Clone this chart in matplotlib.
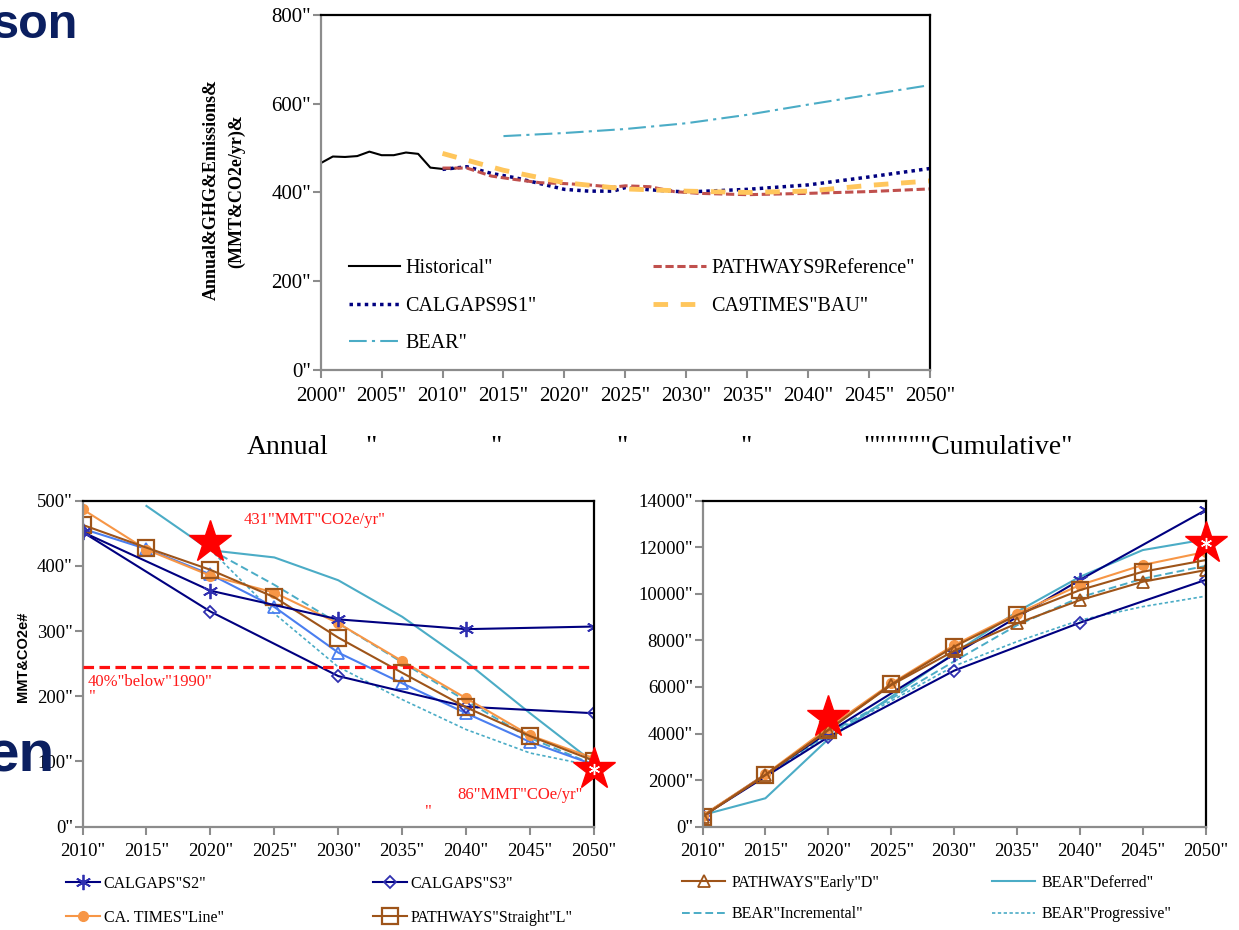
import matplotlib
matplotlib.use("Agg")
import matplotlib.pyplot as plt

plt.rcParams['font.family'] = ['Liberation Serif', 'DejaVu Serif']

NAVY = '#000080'
ORANGE = '#F79646'
BROWN = '#9E5419'
BLUE = '#4A7EF0'
TEAL = '#4BACC6'
RED = '#FF1A1A'
TITLE_NAVY = '#0B1F60'

# ---- top chart: annual GHG emissions, reference cases
hist_years = [2000, 2001, 2002, 2003, 2004, 2005, 2006, 2007, 2008, 2009, 2010, 2011]
hist_vals = [466, 481, 480, 482, 492, 484, 484, 490, 487, 456, 453, 454]
s1_years = [2010, 2012, 2014, 2016, 2018, 2020, 2022, 2024, 2025, 2027, 2030, 2035, 2040, 2045, 2050]
s1_vals = [452, 458, 443, 433, 420, 407, 403, 403, 411, 406, 401, 407, 417, 435, 454]
ref_years = [2010, 2012, 2014, 2016, 2018, 2020, 2022, 2024, 2025, 2027, 2029, 2031, 2035, 2040, 2045, 2050]
ref_vals = [455, 455, 437, 429, 422, 420, 417, 412, 415, 413, 402, 398, 395, 398, 402, 408]
bau_years = [2010, 2015, 2020, 2025, 2030, 2035, 2040, 2045, 2050]
bau_vals = [488, 450, 422, 408, 403, 400, 403, 416, 426]
bear_years = [2015, 2020, 2025, 2030, 2035, 2040, 2045, 2050]
bear_vals = [527, 534, 543, 556, 575, 598, 620, 642]

# ---- bottom charts: scenarios
years = [2010, 2015, 2020, 2025, 2030, 2035, 2040, 2045, 2050]
decades = [2010, 2020, 2030, 2040, 2050]

s2_annual = [452, 362, 318, 303, 307]
s3_annual = [452, 330, 231, 184, 174]
ct_line_annual = [487, 425, 385, 359, 312, 254, 197, 140, 105]
pw_straight_annual = [463, 428, 394, 352, 290, 236, 183, 139, 101]
pw_early_annual = [457, 426, 387, 337, 267, 220, 174, 130, 95]
bear_def_years = [2015, 2020, 2025, 2030, 2035, 2040, 2045, 2050]
bear_def_annual = [492, 424, 413, 378, 322, 253, 174, 98]
bear_inc_years = [2020, 2025, 2030, 2035, 2040, 2045, 2050]
bear_inc_annual = [425, 371, 312, 252, 193, 136, 95]
bear_prog_annual = [425, 327, 245, 195, 149, 113, 93]

s2_cum = [450, 4050, 7400, 10600, 13600]
s3_cum = [450, 3850, 6700, 8760, 10600]
ct_line_cum = [480, 2250, 4250, 6150, 7800, 9150, 10380, 11240, 11800]
pw_straight_cum = [430, 2220, 4150, 6110, 7730, 9090, 10160, 10950, 11450]
pw_early_cum = [430, 2220, 4150, 6080, 7550, 8730, 9730, 10520, 11020]
bear_def_cum = [500, 1220, 3760, 5580, 7450, 9230, 10730, 11880, 12340]
bear_inc_cum = [480, 2200, 4000, 5500, 7100, 8650, 9850, 10650, 11200]
bear_prog_cum = [480, 2200, 3950, 5400, 6900, 7950, 8870, 9450, 9900]

target_1990 = 245
star_years = [2020, 2050]
star_annual = [437, 89]
star_cum = [4720, 12170]


def style(ax, size):
    for s in ['left', 'bottom']:
        ax.spines[s].set_color('#8c8c8c')
        ax.spines[s].set_linewidth(1.6)
    for s in ['top', 'right']:
        ax.spines[s].set_color('black')
        ax.spines[s].set_linewidth(1.6)
    ax.tick_params(direction='out', color='#8c8c8c', length=6, width=1.5, labelsize=size)
    ax.tick_params(axis='y', pad=1)
    ax.tick_params(axis='x', pad=6)


fig = plt.figure(figsize=(12.39, 9.3), dpi=100)

# top chart
ax_top = fig.add_axes([0.2588, 0.6022, 0.4918, 0.3817])
h_hist, = ax_top.plot(hist_years, hist_vals, color='black', lw=1.5, label='Historical"')
h_s1, = ax_top.plot(s1_years, s1_vals, color=NAVY, lw=2.5, ls=(0, (1, 1.2)), label='CALGAPS9S1"')
h_bear, = ax_top.plot(bear_years, bear_vals, color=TEAL, lw=1.5, ls=(0, (8.5, 2.5, 1.5, 2.5)), label='BEAR"')
h_ref, = ax_top.plot(ref_years, ref_vals, color='#C0504D', lw=2.2, ls=(0, (2.7, 1.2)), label='PATHWAYS9Reference"')
h_bau, = ax_top.plot(bau_years, bau_vals, color='#FFC65C', lw=3.5, ls=(0, (3, 2.6)), label='CA9TIMES"BAU"')
ax_top.set_xlim(2000, 2050)
ax_top.set_ylim(0, 800)
ax_top.set_xticks(range(2000, 2051, 5))
ax_top.set_xticklabels([f'{y}"' for y in range(2000, 2051, 5)])
ax_top.set_yticks(range(0, 801, 200))
ax_top.set_yticklabels([f'{v}"' for v in range(0, 801, 200)])
style(ax_top, 15)

leg_kw = dict(frameon=False, borderpad=0, borderaxespad=0, loc='upper left')
fig.legend(handles=[h_hist, h_s1, h_bear], bbox_to_anchor=(349 / 1239, 1 - 259 / 930),
           fontsize=14.5, handlelength=2.55, handletextpad=0.25, labelspacing=0.92, **leg_kw)
fig.legend(handles=[h_ref, h_bau], bbox_to_anchor=(653 / 1239, 1 - 259 / 930),
           fontsize=14.5, handlelength=2.65, handletextpad=0.25, labelspacing=0.92, **leg_kw)

fig.text(211.7 / 1239, 1 - 189 / 930, 'Annual&GHG&Emissions&', rotation=90, fontsize=13,
         fontweight='bold', ha='center', va='center')
fig.text(236.7 / 1239, 1 - 191.5 / 930, '(MMT&CO2e/yr)&', rotation=90, fontsize=13,
         fontweight='bold', ha='center', va='center')

# middle captions
fig.text(247 / 1239, 1 - 447 / 930, 'Annual', fontsize=20, va='center')
for qx in [365, 490, 616, 740]:
    fig.text(qx / 1239, 1 - 447 / 930, '"', fontsize=20, va='center')
fig.text(863 / 1239, 1 - 447 / 930, '""""""Cumulative"', fontsize=20, va='center')

# bottom-left: annual
ax_ann = fig.add_axes([0.0666, 0.1111, 0.4128, 0.3505])
ax_ann.plot(bear_def_years, bear_def_annual, color=TEAL, lw=1.5)
ax_ann.plot(bear_inc_years, bear_inc_annual, color=TEAL, lw=1.4, ls=(0, (4, 2)))
ax_ann.plot(bear_inc_years, bear_prog_annual, color=TEAL, lw=1.2, ls=(0, (2, 1.5)))
ax_ann.plot(years, pw_early_annual, color=BLUE, lw=1.5, marker='^', ms=9, mfc='none', mec=BLUE, mew=1.3)
l_s3, = ax_ann.plot(decades, s3_annual, color=NAVY, lw=1.5, marker='D', ms=6.5, mfc='none', mec='#3030B0',
                    mew=1.3, label='CALGAPS"S3"')
l_ct, = ax_ann.plot(years, ct_line_annual, color=ORANGE, lw=1.5, marker='o', ms=7, label='CA. TIMES"Line"')
l_pw, = ax_ann.plot(years, pw_straight_annual, color=BROWN, lw=1.5, marker='s', ms=11, mfc='none', mew=1.6,
                    label='PATHWAYS"Straight"L"')
l_s2, = ax_ann.plot(decades, s2_annual, color=NAVY, lw=1.5, marker=(6, 2, 0), ms=11, mec='#3030B0', mew=1.3,
                    label='CALGAPS"S2"')
ax_ann.hlines(target_1990, 2010, 2050, colors='#FF1010', lw=2.3, linestyles=(0, (3.3, 1.7)), zorder=4)
ax_ann.plot(star_years, star_annual, ls='none', marker='*', ms=32, color='#FF0000', clip_on=False, zorder=6)
ax_ann.plot(star_years[1:], star_annual[1:], ls='none', marker=(6, 2, 0), ms=8, mec='white', mew=1,
            clip_on=False, zorder=7)
ax_ann.text(2022.6, 470, '431"MMT"CO2e/yr"', color=RED, fontsize=12, va='center')
ax_ann.text(2010.4, 222, '40%"below"1990"', color=RED, fontsize=12, va='center')
ax_ann.text(2010.5, 199, '"', color=RED, fontsize=12, va='center')
ax_ann.text(2049.1, 48.6, '86"MMT"COe/yr"', color=RED, fontsize=12, va='center', ha='right')
ax_ann.text(2036.8, 23, '"', color=RED, fontsize=12, va='center')
ax_ann.set_xlim(2010, 2050)
ax_ann.set_ylim(0, 500)
ax_ann.set_xticks(years)
ax_ann.set_xticklabels([f'{y}"' for y in years])
ax_ann.set_yticks(range(0, 501, 100))
ax_ann.set_yticklabels([f'{v}"' for v in range(0, 501, 100)])
style(ax_ann, 13.5)
fig.text(23 / 1239, 1 - 656.7 / 930, 'MMT&CO2e#', rotation=90, fontsize=10.5, fontweight='bold',
         family='Liberation Sans', ha='center', va='center')

fig.legend(handles=[l_s2, l_ct], bbox_to_anchor=(66 / 1239, 1 - 876 / 930),
           fontsize=11.5, handlelength=2.1, handletextpad=0.25, labelspacing=1.1, **leg_kw)
fig.legend(handles=[l_s3, l_pw], bbox_to_anchor=(373 / 1239, 1 - 876 / 930),
           fontsize=11.5, handlelength=2.1, handletextpad=0.25, labelspacing=1.1, **leg_kw)

# bottom-right: cumulative
ax_cum = fig.add_axes([0.567, 0.1111, 0.4061, 0.3505])
r_def, = ax_cum.plot(years, bear_def_cum, color=TEAL, lw=1.5, label='BEAR"Deferred"')
r_inc, = ax_cum.plot(years, bear_inc_cum, color=TEAL, lw=1.4, ls=(0, (4, 2)), label='BEAR"Incremental"')
r_prog, = ax_cum.plot(years, bear_prog_cum, color=TEAL, lw=1.2, ls=(0, (2, 1.5)), label='BEAR"Progressive"')
ax_cum.plot(decades, s3_cum, color=NAVY, lw=1.5, marker='D', ms=6.5, mfc='none', mec='#3030B0', mew=1.3)
ax_cum.plot(decades, s2_cum, color=NAVY, lw=1.5, marker=(6, 2, 0), ms=11, mec='#3030B0', mew=1.3)
ax_cum.plot(years, ct_line_cum, color=ORANGE, lw=1.5, marker='o', ms=7)
r_early, = ax_cum.plot(years, pw_early_cum, color=BROWN, lw=1.5, marker='^', ms=9, mfc='none', mew=1.3,
                       label='PATHWAYS"Early"D"')
ax_cum.plot(years, pw_straight_cum, color=BROWN, lw=1.5, marker='s', ms=11, mfc='none', mew=1.6)
ax_cum.plot(star_years, star_cum, ls='none', marker='*', ms=32, color='#FF0000', clip_on=False, zorder=6)
ax_cum.plot(star_years[1:], star_cum[1:], ls='none', marker=(6, 2, 0), ms=8, mec='white', mew=1,
            clip_on=False, zorder=7)
ax_cum.set_xlim(2010, 2050)
ax_cum.set_ylim(0, 14000)
ax_cum.set_xticks(years)
ax_cum.set_xticklabels([f'{y}"' for y in years])
ax_cum.set_yticks(range(0, 14001, 2000))
ax_cum.set_yticklabels([f'{v}"' for v in range(0, 14001, 2000)])
style(ax_cum, 13.5)

fig.legend(handles=[r_early, r_inc], bbox_to_anchor=(682 / 1239, 1 - 875 / 930),
           fontsize=11.5, handlelength=2.7, handletextpad=0.4, labelspacing=0.95, **leg_kw)
fig.legend(handles=[r_def, r_prog], bbox_to_anchor=(992 / 1239, 1 - 875 / 930),
           fontsize=11.5, handlelength=2.7, handletextpad=0.4, labelspacing=0.95, **leg_kw)

# cut-off slide title fragments
fig.text(78 / 1239, 1 - 38 / 930, 'son', fontsize=35, fontweight='bold', family='Liberation Sans',
         color=TITLE_NAVY, ha='right', va='baseline', zorder=10)
fig.text(55 / 1239, 1 - 772 / 930, 'en', fontsize=42, fontweight='bold', family='Liberation Sans',
         color=TITLE_NAVY, ha='right', va='baseline', zorder=10)

fig.savefig('out.png', dpi=100)
